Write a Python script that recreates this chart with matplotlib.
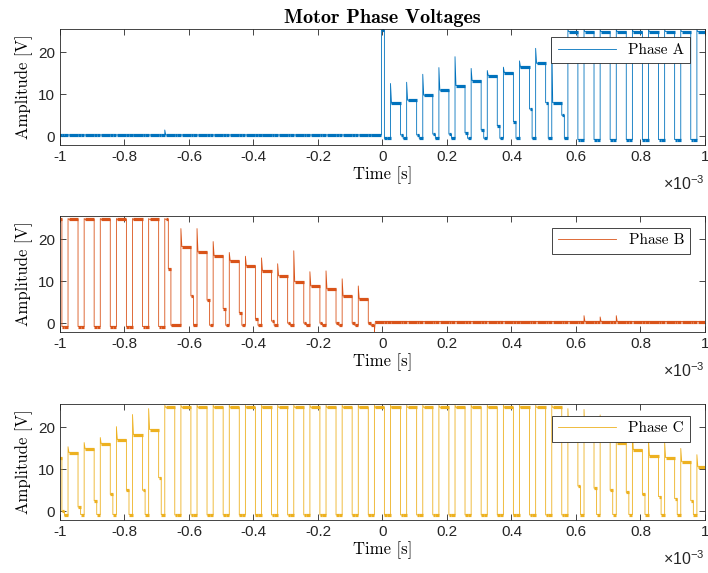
import matplotlib
matplotlib.use('Agg')
import matplotlib.pyplot as plt
from matplotlib.ticker import FuncFormatter

plt.rcParams['font.family'] = 'cmr10'
plt.rcParams['mathtext.fontset'] = 'custom'
plt.rcParams['mathtext.rm'] = 'Liberation Sans'
plt.rcParams['mathtext.it'] = 'Liberation Sans:italic'
plt.rcParams['axes.unicode_minus'] = False

# PWM edges (ms); index 0 is the cycle already running at t=-1
rise_ms = [-1.025, -0.975, -0.925, -0.875, -0.825, -0.775, -0.725, -0.675, -0.625, -0.575,
           -0.525, -0.475, -0.425, -0.375, -0.325, -0.275, -0.225, -0.175, -0.125, -0.075,
           -0.025, 0.025, 0.075, 0.125, 0.175, 0.225, 0.275, 0.325, 0.375, 0.425,
           0.475, 0.525, 0.575, 0.625, 0.675, 0.725, 0.775, 0.825, 0.875, 0.925, 0.975]
fall_ms = [-0.994, -0.944, -0.894, -0.844, -0.794, -0.744, -0.694, -0.644, -0.594, -0.544,
           -0.494, -0.444, -0.394, -0.344, -0.294, -0.244, -0.194, -0.144, -0.094, -0.044,
           0.006, 0.056, 0.106, 0.156, 0.206, 0.256, 0.306, 0.356, 0.406, 0.456,
           0.506, 0.556, 0.606, 0.656, 0.706, 0.756, 0.806, 0.856, 0.906, 0.956, 1.006]

# phase A levels per cycle (V)
a_peak = [0.3, 0.3, 0.3, 0.3, 0.3, 0.3, 0.3, 1.5, 0.3, 0.3,
          0.3, 0.3, 0.3, 0.3, 0.3, 0.3, 0.3, 0.3, 0.3, 0.3,
          25.4, 12.6, 12.9, 14.8, 16.4, 19.0, 16.2, 15.7, 16.5, 18.0,
          21.0, 23.3, 25.4, 25.4, 25.4, 25.4, 25.4, 25.4, 25.4, 25.4, 25.4]
a_high = [0.3, 0.3, 0.3, 0.3, 0.3, 0.3, 0.3, 0.3, 0.3, 0.3,
          0.3, 0.3, 0.3, 0.3, 0.3, 0.3, 0.3, 0.3, 0.3, 0.3,
          25.3, 7.9, 8.6, 9.8, 11.0, 12.1, 13.3, 14.5, 15.2, 16.5,
          17.4, 8.0, 25.0, 25.0, 25.0, 25.0, 25.0, 25.0, 25.0, 25.0, 25.0]
a_dip = [0.3, 0.3, 0.3, 0.3, 0.3, 0.3, 0.3, 0.3, 0.3, 0.3,
         0.3, 0.3, 0.3, 0.3, 0.3, 0.3, 0.3, 0.3, 0.3, 0.3,
         -0.5, 0.3, 0.3, 0.5, 0.5, 0.8, 1.5, 2.5, 3.5, 6.5,
         8.0, 5.0, -0.8, -0.8, -0.8, -0.8, -0.8, -0.8, -0.8, -0.8, -0.8]
a_low = [0.3, 0.3, 0.3, 0.3, 0.3, 0.3, 0.3, 0.3, 0.3, 0.3,
         0.3, 0.3, 0.3, 0.3, 0.3, 0.3, 0.3, 0.3, 0.3, 0.3,
         -0.5, -0.5, -0.5, -0.5, -0.5, -0.5, -0.5, -0.5, -0.5, -0.5,
         -0.5, -0.5, -0.8, -0.8, -0.8, -0.8, -0.8, -0.8, -0.8, -0.8, -0.8]
a_rise_fix = {20: -0.003}

# phase B levels per cycle (V)
b_peak = [25.0, 25.0, 25.0, 25.0, 25.0, 25.0, 25.0, 25.0, 22.6, 22.6,
          19.5, 16.9, 16.0, 15.6, 14.2, 17.3, 12.3, 12.5, 10.6, 8.9,
          -2.0, 0.4, 0.4, 0.4, 0.4, 0.4, 0.4, 0.4, 0.4, 0.4,
          0.4, 0.4, 0.4, 1.8, 1.5, 1.8, 0.4, 0.4, 0.4, 0.4, 0.4]
b_high = [24.8, 24.8, 24.8, 24.8, 24.8, 24.8, 24.8, 24.8, 18.3, 17.0,
          16.1, 14.9, 13.7, 12.5, 11.3, 9.9, 8.9, 8.2, 6.5, 5.8,
          0.4, 0.4, 0.4, 0.4, 0.4, 0.4, 0.4, 0.4, 0.4, 0.4,
          0.4, 0.4, 0.4, 0.4, 0.4, 0.4, 0.4, 0.4, 0.4, 0.4, 0.4]
b_dip = [-0.8, -0.8, -0.8, -0.8, -0.8, -0.8, -0.8, 13.0, 6.5, 5.5,
         3.5, 2.5, 1.0, 0.5, 0.0, 0.0, 0.0, 0.0, 0.0, 0.0,
         0.4, 0.4, 0.4, 0.4, 0.4, 0.4, 0.4, 0.4, 0.4, 0.4,
         0.4, 0.4, 0.4, 0.4, 0.4, 0.4, 0.4, 0.4, 0.4, 0.4, 0.4]
b_low = [-0.8, -0.8, -0.8, -0.8, -0.8, -0.8, -0.8, -0.5, -0.5, -0.5,
         -0.5, -0.5, -0.5, -0.5, -0.5, -0.5, -0.5, -0.5, -0.5, -0.5,
         0.4, 0.4, 0.4, 0.4, 0.4, 0.4, 0.4, 0.4, 0.4, 0.4,
         0.4, 0.4, 0.4, 0.4, 0.4, 0.4, 0.4, 0.4, 0.4, 0.4, 0.4]
b_fall_fix = {7: -0.664}

# phase C levels per cycle (V)
c_peak = [12.8, 15.4, 16.4, 17.6, 20.2, 23.1, 24.5, 25.3, 25.3, 25.3,
          25.3, 25.3, 25.3, 25.3, 25.3, 25.3, 25.3, 25.3, 25.3, 25.3,
          25.3, 25.3, 25.3, 25.3, 25.3, 25.3, 25.3, 25.3, 25.3, 25.3,
          25.3, 25.3, 24.5, 24.3, 23.0, 21.0, 19.0, 17.0, 16.5, 15.0, 13.5]
c_high = [12.8, 14.0, 14.9, 16.1, 17.1, 18.3, 19.5, 24.8, 24.8, 24.8,
          24.8, 24.8, 24.8, 24.8, 24.8, 24.8, 24.8, 24.8, 24.8, 24.8,
          24.8, 24.8, 24.8, 24.8, 24.8, 24.8, 24.8, 24.8, 24.8, 24.8,
          24.8, 24.8, 19.0, 18.3, 17.1, 16.4, 14.7, 13.3, 12.8, 11.8, 10.6]
c_dip = [0.0, 1.0, 2.5, 4.0, 5.0, 5.0, 8.0, -0.9, -0.9, -0.9,
         -0.9, -0.9, -0.9, -0.9, -0.9, -0.9, -0.9, -0.9, -0.9, -0.9,
         -0.9, -0.9, -0.9, -0.9, -0.9, -0.9, -0.9, -0.9, -0.9, -0.9,
         -0.9, -0.9, 6.0, 5.5, 5.0, 4.5, 4.0, 3.5, 3.0, 2.5, 2.0]
c_low = [-1.0, -0.8, -0.8, -0.8, -0.8, -0.8, -0.8, -0.9, -0.9, -0.9,
         -0.9, -0.9, -0.9, -0.9, -0.9, -0.9, -0.9, -0.9, -0.9, -0.9,
         -0.9, -0.9, -0.9, -0.9, -0.9, -0.9, -0.9, -0.9, -0.9, -0.9,
         -0.9, -0.9, -0.8, -0.8, -0.8, -0.8, -0.8, -0.8, -0.8, -0.8, -0.8]

x_ticks = [-1, -0.8, -0.6, -0.4, -0.2, 0, 0.2, 0.4, 0.6, 0.8, 1]
y_ticks = [0, 10, 20]

SPIKE = 0.003   # ms, decay of the edge spike
DIP = 0.008     # ms, ringing after the falling edge


def build(peak, high, dip, low, rise_fix={}, fall_fix={}):
    t, v, segs = [], [], []
    n = len(rise_ms)
    for i in range(n):
        r = rise_fix.get(i, rise_ms[i])
        f = fall_fix.get(i, fall_ms[i])
        nxt = rise_fix.get(i + 1, rise_ms[i + 1]) if i + 1 < n else 1.05
        t += [r, r + SPIKE, f, f, f + DIP, f + DIP, nxt]
        v += [peak[i], high[i], high[i], dip[i], dip[i], low[i], low[i]]
        segs += [(high[i], r + SPIKE, f), (dip[i], f, f + DIP), (low[i], f + DIP, nxt)]
    return t, v, segs


phases = [
    ('Phase A', '#0072BD', build(a_peak, a_high, a_dip, a_low, rise_fix=a_rise_fix)),
    ('Phase B', '#D95319', build(b_peak, b_high, b_dip, b_low, fall_fix=b_fall_fix)),
    ('Phase C', '#EDB120', build(c_peak, c_high, c_dip, c_low)),
]

fig = plt.figure(figsize=(7.08, 5.73), dpi=100)
bottoms = [0.7469, 0.4206, 0.0925]
legend_tops = [0.931, 0.90, 0.90]

for k, (name, col, (t, v, segs)) in enumerate(phases):
    ax = fig.add_axes([0.0847, bottoms[k], 0.911, 0.2024])
    ax.plot(t, v, color=col, lw=0.6, label=name)
    for lvl, x0, x1 in segs:
        ax.plot([x0, x1], [lvl, lvl], color=col, lw=2.3, solid_capstyle='butt')
    ax.set_xlim(-1, 1)
    ax.set_ylim(-2.1, 25.6)
    ax.set_xticks(x_ticks)
    ax.set_yticks(y_ticks)
    ax.xaxis.set_major_formatter(FuncFormatter(lambda x, p: '%g' % x))
    ax.tick_params(direction='in', top=True, right=True, length=4, width=0.6,
                   colors='0.15', labelsize=11, labelfontfamily='Liberation Sans')
    for s in ax.spines.values():
        s.set_color('0.15')
        s.set_linewidth(0.6)
    ax.set_xlabel('Time [s]', fontsize=12, labelpad=2)
    ax.set_ylabel('Amplitude [V]', fontsize=12, labelpad=4)
    ax.text(1.0, -0.385, r'$\times10^{-3}$', transform=ax.transAxes, ha='right',
            va='baseline', fontsize=11.5, color='0.15')
    leg = ax.legend([ax.lines[0]], [name], loc='upper right', bbox_to_anchor=(0.977, legend_tops[k]),
                    borderaxespad=0, fancybox=False, framealpha=1, edgecolor='0.15',
                    handlelength=3.8, fontsize=11)
    leg.get_frame().set_linewidth(0.6)
    if k == 0:
        ax.set_title('Motor Phase Voltages', fontfamily='cmb10', fontsize=14.5, pad=4)

plt.savefig('out.png', dpi=100)
